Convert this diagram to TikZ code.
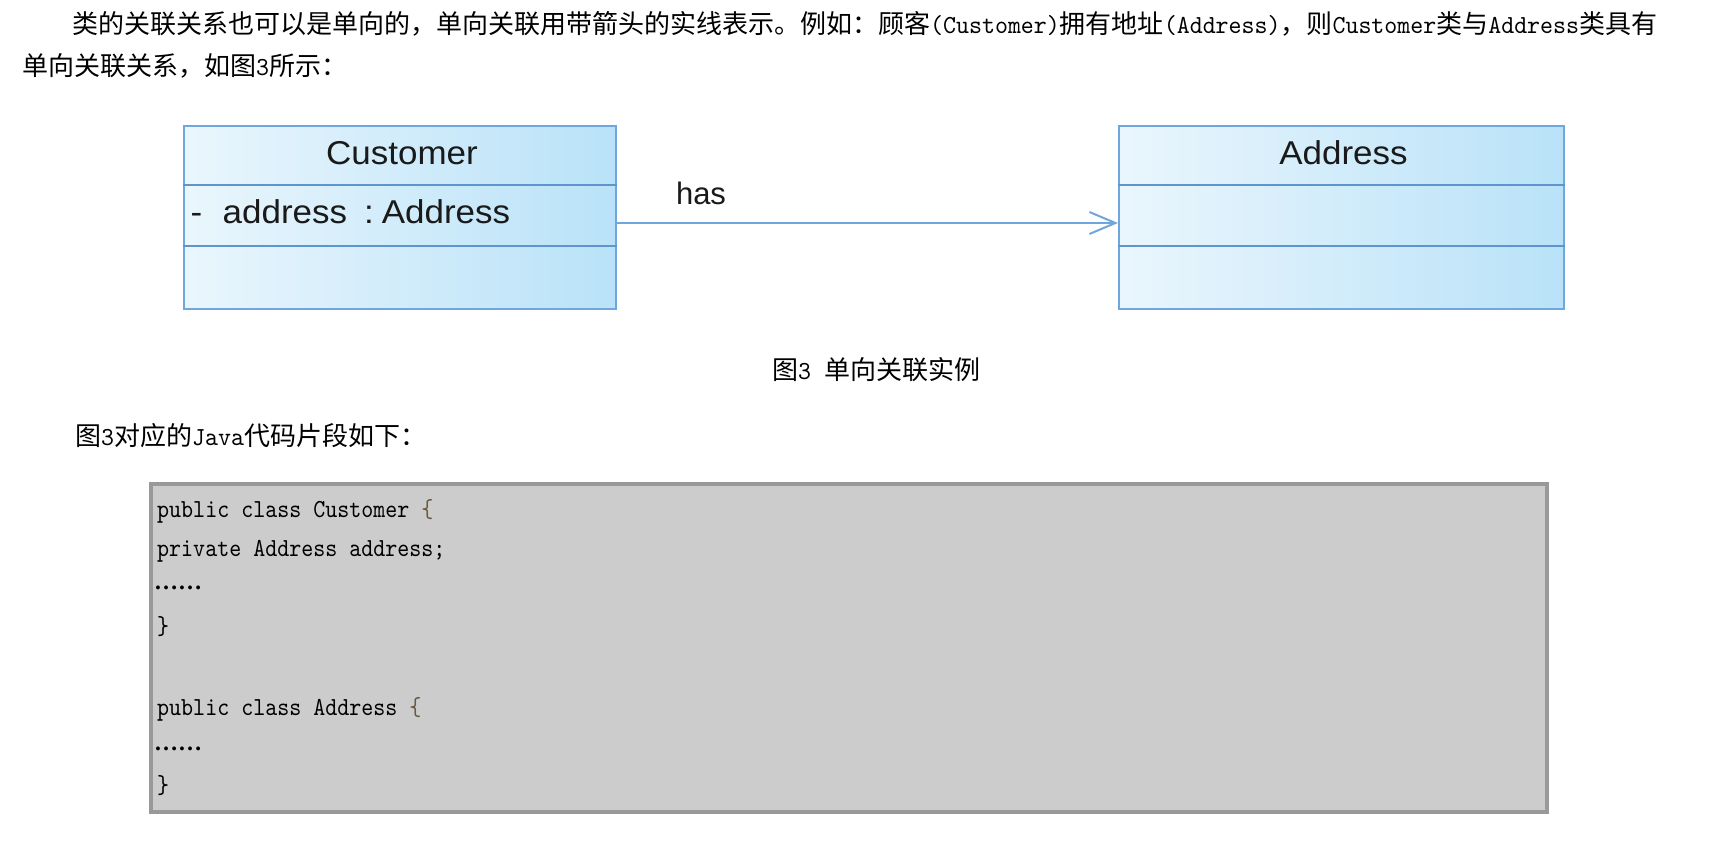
\documentclass[tikz,border=0pt]{standalone}
\usepackage{fontspec}
\usetikzlibrary{arrows.meta}
\newfontfamily\zhfont{Noto Sans CJK SC}
\newfontfamily\enfont[FakeStretch=0.95]{lmmono10-regular.otf}
\newfontfamily\codefont[FakeStretch=0.88]{lmmono10-regular.otf}
\newfontfamily\umlfont[FakeStretch=1.06]{Liberation Sans}
\newfontfamily\hasfont{Liberation Sans}
\newfontfamily\dotfont{Liberation Serif}
\newcommand\entxt[1]{{\enfont #1}}
\definecolor{umlborder}{HTML}{6FA6DD}
\definecolor{umldiv}{HTML}{5E95CC}
\definecolor{umllight}{HTML}{EAF6FD}
\definecolor{umldark}{HTML}{B9E2F8}
\definecolor{umltext}{HTML}{1A1A1A}
\definecolor{codegray}{HTML}{CCCCCC}
\definecolor{codeborder}{HTML}{999999}
\definecolor{bracecol}{HTML}{6B5A40}
\tikzset{
  umlbox/.style={draw=umlborder, line width=2pt, left color=umllight, right color=umldark, inner sep=0pt, minimum height=183pt},
  umldivider/.style={draw=umldiv, line width=2pt},
  umltitle/.style={font=\umlfont\fontsize{33pt}{33pt}\selectfont, text=umltext, inner sep=0pt},
  hastext/.style={font=\hasfont\fontsize{31pt}{31pt}\selectfont, text=umltext, inner sep=0pt},
  assoc/.style={draw=umlborder, line width=2pt, -{Straight Barb[length=26pt,width=22pt]}},
  bodytext/.style={font=\zhfont\fontsize{26pt}{30pt}\selectfont, anchor=west, inner sep=0pt, text=black},
  codebox/.style={fill=codegray, draw=codeborder, line width=4pt, inner sep=0pt},
  codeline/.style={font=\codefont\fontsize{26pt}{30pt}\selectfont, anchor=base west, inner sep=0pt, text=black},
  dotline/.style={font=\dotfont\bfseries\fontsize{24pt}{28pt}\selectfont, anchor=base west, inner sep=0pt, text=black}
}
\begin{document}
\begin{tikzpicture}[x=1pt,y=-1pt]
\useasboundingbox (0,0) rectangle (1716,848);
\fill[white] (0,0) rectangle (1716,848);

% intro text
\node[bodytext] (line1) at (72,24) {类的关联关系也可以是单向的，单向关联用带箭头的实线表示。例如：顾客\entxt{(Customer)}拥有地址\entxt{(Address)}，则\entxt{Customer}类与\entxt{Address}类具有};
\node[bodytext] (line2) at (22,66) {单向关联关系，如图\entxt{3}所示：};

% UML classes
\node[umlbox, minimum width=432pt] (cust) at (400,217.5) {};
\node[umlbox, minimum width=445pt] (addr) at (1341.5,217.5) {};
\draw[umldivider] (cust.west |- 0,185) -- (cust.east |- 0,185);
\draw[umldivider] (cust.west |- 0,246) -- (cust.east |- 0,246);
\draw[umldivider] (addr.west |- 0,185) -- (addr.east |- 0,185);
\draw[umldivider] (addr.west |- 0,246) -- (addr.east |- 0,246);
\node[umltitle] (custname) at (402,153.5) {Customer};
\node[umltitle] (addrname) at (1343.5,152.5) {Address};
\node[umltitle, anchor=west] (custattr) at (190.5,212) {\makebox[32pt][l]{-}address\hspace{17pt}:\hspace{8pt}Address};

% association
\draw[assoc] ([yshift=-5.5pt]cust.east) -- ([yshift=-5.5pt]addr.west);
\node[hastext] (has) at (701,193.5) {has};

% caption
\node[bodytext] (caption) at (772,370) {图\entxt{3 }单向关联实例};
\node[bodytext] (intro2) at (75,436) {图\entxt{3}对应的\entxt{Java}代码片段如下：};

% code block
\node[codebox, minimum width=1396pt, minimum height=328pt] (code) at (849,648) {};
\node[codeline] (c1) at (157,517) {public class Customer {\color{bracecol}\{}};
\node[codeline] (c2) at (157,556) {private Address address;};
\node[dotline] (c3) at (154,589) {……};
\node[codeline] (c4) at (157,634) {\}};
\node[codeline] (c5) at (157,715) {public class Address {\color{bracecol}\{}};
\node[dotline] (c6) at (154,750) {……};
\node[codeline] (c7) at (157,793) {\}};
\end{tikzpicture}
\end{document}
